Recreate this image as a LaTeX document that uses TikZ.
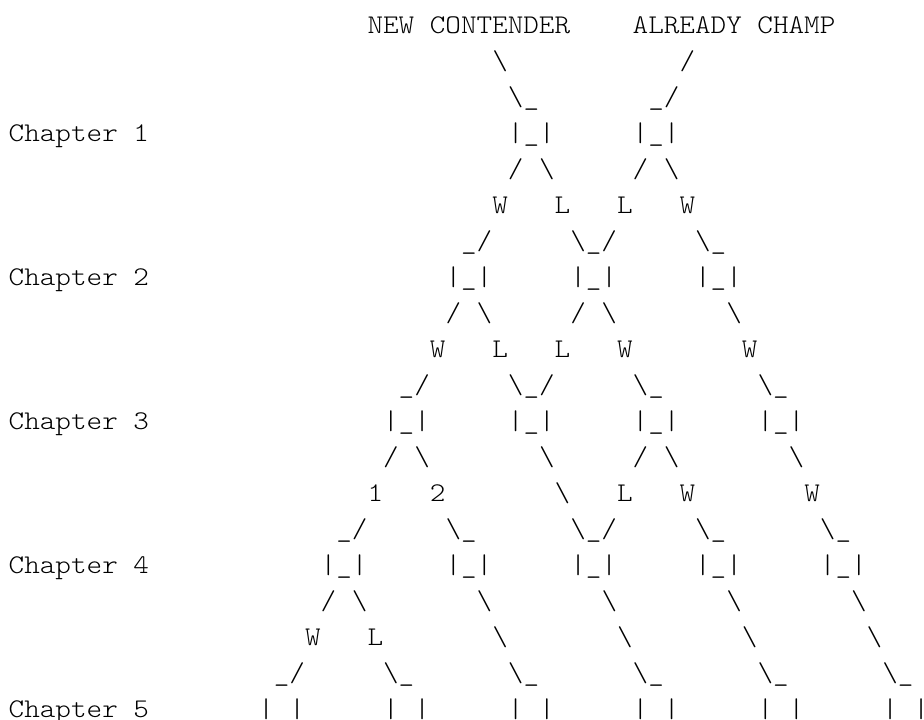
\documentclass[tikz,border=0pt]{standalone}
\usepackage{fontspec}
\newfontfamily\asciifont[FakeStretch=1.1]{lmmonolt10-regular.otf}
\tikzset{chr/.style={anchor=base west, inner sep=0pt, outer sep=0pt}}
\newcommand{\bsl}{\textbackslash}
\newcommand{\boxc}{\textbar\_\textbar}
\newcommand{\openc}{\textbar{} \textbar}

\begin{document}
\begin{tikzpicture}[x = 11.7pt, y = -27pt, every node/.style = {font=\asciifont\fontsize{20.25pt}{27pt}\selectfont}]
    \useasboundingbox (0pt, 0pt) rectangle (693pt, -540pt);
    \begin{scope}[xshift = 6.525pt, yshift = 2.025pt]
        \node[chr] (new) at (23, 1) {NEW CONTENDER};
        \node[chr] (champ) at (40, 1) {ALREADY CHAMP};
        \node[chr] (n1) at (31, 2) {\bsl};
        \node[chr] (c1) at (43, 2) {/};
        \node[chr] (n2) at (32, 3) {\bsl\_};
        \node[chr] (c2) at (41, 3) {\_/};

        % Chapter 1
        \node[chr] (ch1) at (0, 4) {Chapter 1};
        \node[chr] (b1a) at (32, 4) {\boxc};
        \node[chr] (b1b) at (40, 4) {\boxc};
        \node[chr] (s1a) at (32, 5) {/ \bsl};
        \node[chr] (s1b) at (40, 5) {/ \bsl};
        \node[chr] (r1a) at (31, 6) {W};
        \node[chr] (r1b) at (35, 6) {L};
        \node[chr] (r1c) at (39, 6) {L};
        \node[chr] (r1d) at (43, 6) {W};
        \node[chr] (t1a) at (29, 7) {\_/};
        \node[chr] (t1b) at (36, 7) {\bsl\_/};
        \node[chr] (t1c) at (44, 7) {\bsl\_};

        % Chapter 2
        \node[chr] (ch2) at (0, 8) {Chapter 2};
        \foreach \c in {28, 36, 44}
            \node[chr] (b2-\c) at (\c, 8) {\boxc};
        \node[chr] (s2a) at (28, 9) {/ \bsl};
        \node[chr] (s2b) at (36, 9) {/ \bsl};
        \node[chr] (s2c) at (46, 9) {\bsl};
        \node[chr] (r2a) at (27, 10) {W};
        \node[chr] (r2b) at (31, 10) {L};
        \node[chr] (r2c) at (35, 10) {L};
        \node[chr] (r2d) at (39, 10) {W};
        \node[chr] (r2e) at (47, 10) {W};
        \node[chr] (t2a) at (25, 11) {\_/};
        \node[chr] (t2b) at (32, 11) {\bsl\_/};
        \node[chr] (t2c) at (40, 11) {\bsl\_};
        \node[chr] (t2d) at (48, 11) {\bsl\_};

        % Chapter 3
        \node[chr] (ch3) at (0, 12) {Chapter 3};
        \foreach \c in {24, 32, 40, 48}
            \node[chr] (b3-\c) at (\c, 12) {\boxc};
        \node[chr] (s3a) at (24, 13) {/ \bsl};
        \node[chr] (s3b) at (34, 13) {\bsl};
        \node[chr] (s3c) at (40, 13) {/ \bsl};
        \node[chr] (s3d) at (50, 13) {\bsl};
        \node[chr] (r3a) at (23, 14) {1};
        \node[chr] (r3b) at (27, 14) {2};
        \node[chr] (r3c) at (35, 14) {\bsl};
        \node[chr] (r3d) at (39, 14) {L};
        \node[chr] (r3e) at (43, 14) {W};
        \node[chr] (r3f) at (51, 14) {W};
        \node[chr] (t3a) at (21, 15) {\_/};
        \node[chr] (t3b) at (28, 15) {\bsl\_};
        \node[chr] (t3c) at (36, 15) {\bsl\_/};
        \node[chr] (t3d) at (44, 15) {\bsl\_};
        \node[chr] (t3e) at (52, 15) {\bsl\_};

        % Chapter 4
        \node[chr] (ch4) at (0, 16) {Chapter 4};
        \foreach \c in {20, 28, 36, 44, 52}
            \node[chr] (b4-\c) at (\c, 16) {\boxc};
        \node[chr] (s4a) at (20, 17) {/ \bsl};
        \foreach \c in {30, 38, 46, 54}
            \node[chr] (s4-\c) at (\c, 17) {\bsl};
        \node[chr] (r4a) at (19, 18) {W};
        \node[chr] (r4b) at (23, 18) {L};
        \foreach \c in {31, 39, 47, 55}
            \node[chr] (r4-\c) at (\c, 18) {\bsl};
        \node[chr] (t4a) at (17, 19) {\_/};
        \foreach \c in {24, 32, 40, 48, 56}
            \node[chr] (t4-\c) at (\c, 19) {\bsl\_};

        % Chapter 5
        \node[chr] (ch5) at (0, 20) {Chapter 5};
        \foreach \c in {16, 24, 32, 40, 48, 56}
            \node[chr] (b5-\c) at (\c, 20) {\openc};
    \end{scope}
\end{tikzpicture}
\end{document}
